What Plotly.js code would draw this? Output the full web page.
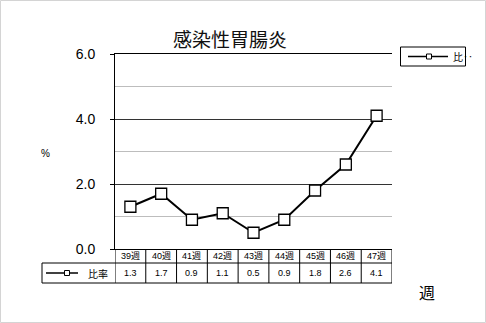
<!DOCTYPE html>
<html>
<head>
<meta charset="utf-8">
<script src="https://cdn.plot.ly/plotly-3.0.1.min.js"></script>
<style>html,body{margin:0;padding:0;background:#fff;}#chart{width:486px;height:323px;}</style>
</head>
<body>
<div id="chart"></div>
<script>
// ---- data ----
const weeks = ['39週','40週','41週','42週','43週','44週','45週','46週','47週'];
const rates = [1.3, 1.7, 0.9, 1.1, 0.5, 0.9, 1.8, 2.6, 4.1];
const seriesName = '比率';
const legendLabel = '比‥';
const chartTitle = '感染性胃腸炎';
const yTitle = '%';
const xTitle = '週';

// ---- geometry helpers (pixel -> paper) ----
const FW = 486, FH = 323;
const L = 115, T = 54, W = 277, H = 195;
const px = x => (x - L) / W;
const py = y => (T + H - y) / H;
const FONT = 'Liberation Sans, Arial, Noto Sans CJK JP, sans-serif';
const CJK = 'Noto Sans CJK JP, sans-serif';

const shapes = [];
const annotations = [];
const blk = {color: '#000', width: 1};

// outer border
shapes.push({type:'rect', xref:'paper', yref:'paper', x0:px(0.5), x1:px(485.5), y0:py(322.5), y1:py(0.5), line:{color:'#d4d4d4', width:1}});

// table horizontal lines
const rowMid = py(263), rowBot = py(283);
shapes.push({type:'line', xref:'paper', yref:'paper', x0:px(42), x1:1, y0:rowMid, y1:rowMid, line:blk});
shapes.push({type:'line', xref:'paper', yref:'paper', x0:px(42), x1:1, y0:rowBot, y1:rowBot, line:blk});
shapes.push({type:'line', xref:'paper', yref:'paper', x0:px(42), x1:px(42), y0:rowMid, y1:rowBot, line:blk});
// table vertical lines at category boundaries
for (let k = 0; k <= weeks.length; k++) {
  shapes.push({type:'line', xref:'x', yref:'paper', x0:k-0.5, x1:k-0.5, y0:0, y1:rowBot, line:blk});
}
// table cells text
weeks.forEach((w, i) => {
  annotations.push({xref:'x', yref:'paper', x:i, y:(0+rowMid)/2, text:w, showarrow:false,
    font:{family:FONT, size:9, color:'#000'}, xanchor:'center', yanchor:'middle'});
  annotations.push({xref:'x', yref:'paper', x:i, y:(rowMid+rowBot)/2, text:rates[i].toFixed(1), showarrow:false,
    font:{family:FONT, size:9, color:'#000'}, xanchor:'center', yanchor:'middle'});
});
// legend key in table
const ky = py(273);
shapes.push({type:'line', xref:'paper', yref:'paper', x0:px(46), x1:px(78), y0:ky, y1:ky, line:{color:'#000', width:1.5}});
shapes.push({type:'rect', xref:'paper', yref:'paper', x0:px(64.5), x1:px(69.5), y0:py(275.5), y1:py(270.5), line:{color:'#000', width:1}, fillcolor:'#fff'});
annotations.push({xref:'paper', yref:'paper', x:px(98), y:ky, text:seriesName, showarrow:false,
  font:{family:CJK, size:10, color:'#000'}, xanchor:'center', yanchor:'middle'});

// right legend box
shapes.push({type:'rect', xref:'paper', yref:'paper', x0:px(400.5), x1:px(465.5), y0:py(66), y1:py(47), line:{color:'#000', width:1}, fillcolor:'rgba(0,0,0,0)'});
const ly = py(56.5);
shapes.push({type:'line', xref:'paper', yref:'paper', x0:px(408), x1:px(448), y0:ly, y1:ly, line:{color:'#000', width:1.5}});
shapes.push({type:'rect', xref:'paper', yref:'paper', x0:px(426.5), x1:px(431.5), y0:py(59), y1:py(54), line:{color:'#000', width:1}, fillcolor:'#fff'});
annotations.push({xref:'paper', yref:'paper', x:px(451), y:ly, text:legendLabel, showarrow:false,
  font:{family:CJK, size:10, color:'#000'}, xanchor:'left', yanchor:'middle'});

// titles
annotations.push({xref:'paper', yref:'paper', x:px(229.7), y:py(38), text:chartTitle, showarrow:false,
  font:{family:CJK, size:19, color:'#111'}, xanchor:'center', yanchor:'middle'});
annotations.push({xref:'paper', yref:'paper', x:px(45.5), y:py(153), text:yTitle, showarrow:false,
  font:{family:FONT, size:10, color:'#000'}, xanchor:'center', yanchor:'middle'});
annotations.push({xref:'paper', yref:'paper', x:px(427), y:py(292), text:xTitle, showarrow:false,
  font:{family:CJK, size:16, color:'#000'}, xanchor:'center', yanchor:'middle'});

const trace = {
  type:'scatter', mode:'lines+markers', x:weeks, y:rates, name:seriesName,
  line:{color:'#000', width:2},
  marker:{symbol:'square', size:11, color:'#fff', line:{color:'#000', width:1.3}},
  cliponaxis:false, showlegend:false
};

const layout = {
  width:FW, height:FH,
  margin:{l:L, r:FW-L-W, t:T, b:FH-T-H, pad:0},
  paper_bgcolor:'#fff', plot_bgcolor:'#fff',
  showlegend:false,
  xaxis:{type:'category', categoryorder:'array', categoryarray:weeks, range:[-0.5, weeks.length-0.5],
    showticklabels:false, ticks:'', showgrid:false, zeroline:false,
    showline:true, mirror:true, linecolor:'#000', linewidth:1, fixedrange:true},
  yaxis:{range:[0,6], tickmode:'linear', tick0:0, dtick:2, tickformat:'.1f',
    ticks:'outside', ticklen:4, tickcolor:'#000', tickwidth:1,
    ticklabelstandoff:12,
    tickfont:{family:FONT, size:14, color:'#000'},
    showgrid:true, gridcolor:'#333', gridwidth:1,
    minor:{dtick:1, showgrid:true, gridcolor:'#bdbdbd', gridwidth:1, ticks:''},
    zeroline:false, showline:true, linecolor:'#000', linewidth:1, fixedrange:true},
  shapes:shapes, annotations:annotations
};

Plotly.newPlot('chart', [trace], layout, {staticPlot:true, displayModeBar:false});
</script>
</body>
</html>
